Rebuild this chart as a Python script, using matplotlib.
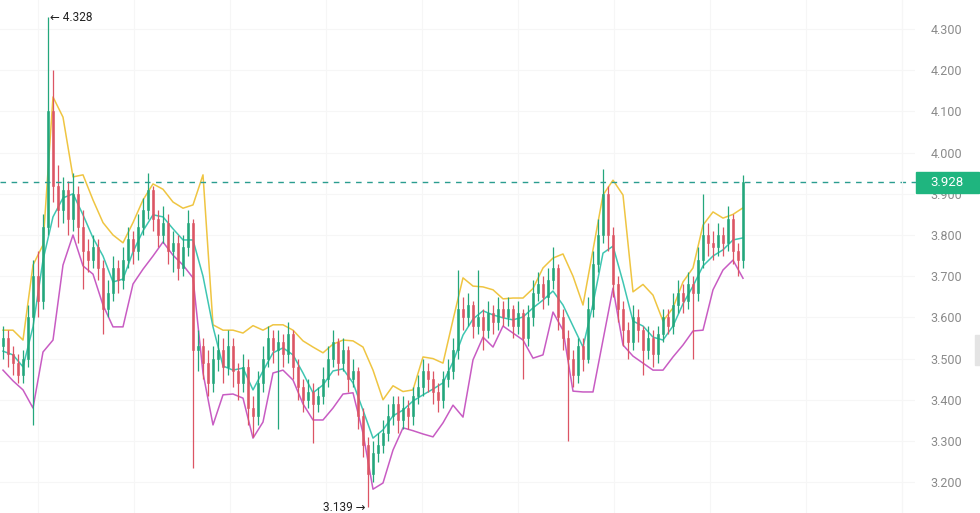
import numpy as np
import matplotlib
matplotlib.use("Agg")
import matplotlib.pyplot as plt
from matplotlib.patches import Rectangle

# candle data (one candle per slot, open = previous close)
first_open = 3.53
closes = [3.55, 3.51, 3.49, 3.46, 3.50, 3.60, 3.70, 3.64, 3.82, 4.10,
          3.92, 3.86, 3.91, 3.84, 3.90, 3.82, 3.76, 3.74, 3.77, 3.72,
          3.62, 3.66, 3.72, 3.69, 3.74, 3.79, 3.76, 3.82, 3.86, 3.91,
          3.84, 3.80, 3.83, 3.76, 3.78, 3.72, 3.77, 3.83, 3.52, 3.53,
          3.49, 3.44, 3.50, 3.52, 3.48, 3.53, 3.47, 3.44, 3.48, 3.38,
          3.36, 3.44, 3.50, 3.55, 3.52, 3.54, 3.51, 3.56, 3.48, 3.43,
          3.40, 3.42, 3.39, 3.41, 3.45, 3.50, 3.54, 3.49, 3.52, 3.45,
          3.47, 3.36, 3.29, 3.22, 3.27, 3.29, 3.32, 3.36, 3.39, 3.35,
          3.38, 3.36, 3.41, 3.43, 3.47, 3.45, 3.42, 3.40, 3.45, 3.47,
          3.52, 3.62, 3.60, 3.63, 3.58, 3.60, 3.57, 3.61, 3.59, 3.62,
          3.60, 3.62, 3.58, 3.61, 3.55, 3.60, 3.66, 3.68, 3.65, 3.69,
          3.72, 3.60, 3.55, 3.50, 3.46, 3.53, 3.50, 3.62, 3.73, 3.80,
          3.90, 3.80, 3.68, 3.62, 3.57, 3.54, 3.60, 3.57, 3.52, 3.55,
          3.51, 3.56, 3.60, 3.58, 3.63, 3.66, 3.64, 3.68, 3.66, 3.74,
          3.80, 3.78, 3.77, 3.80, 3.78, 3.84, 3.76, 3.74, 3.928]
highs = [3.58, 3.57, 3.53, 3.51, 3.52, 3.63, 3.74, 3.76, 3.85, 4.328,
         4.20, 3.97, 3.94, 3.93, 3.95, 3.92, 3.86, 3.79, 3.80, 3.79,
         3.74, 3.69, 3.75, 3.74, 3.77, 3.82, 3.81, 3.85, 3.89, 3.95,
         3.92, 3.86, 3.87, 3.85, 3.81, 3.80, 3.80, 3.86, 3.84, 3.57,
         3.55, 3.52, 3.53, 3.56, 3.55, 3.57, 3.55, 3.49, 3.51, 3.50,
         3.41, 3.47, 3.53, 3.58, 3.57, 3.57, 3.56, 3.59, 3.57, 3.50,
         3.45, 3.45, 3.44, 3.43, 3.48, 3.53, 3.57, 3.55, 3.55, 3.53,
         3.50, 3.48, 3.38, 3.31, 3.30, 3.32, 3.35, 3.39, 3.41, 3.41,
         3.41, 3.40, 3.43, 3.46, 3.50, 3.49, 3.47, 3.44, 3.47, 3.50,
         3.55, 3.715, 3.65, 3.66, 3.64, 3.715, 3.62, 3.64, 3.63, 3.65,
         3.64, 3.65, 3.63, 3.64, 3.62, 3.63, 3.69, 3.71, 3.70, 3.72,
         3.77, 3.73, 3.62, 3.57, 3.52, 3.55, 3.55, 3.65, 3.76, 3.84,
         3.96, 3.92, 3.82, 3.70, 3.64, 3.59, 3.63, 3.62, 3.58, 3.58,
         3.57, 3.58, 3.62, 3.62, 3.66, 3.69, 3.68, 3.71, 3.70, 3.77,
         3.90, 3.83, 3.81, 3.83, 3.82, 3.87, 3.85, 3.78, 3.946]
lows = [3.50, 3.48, 3.46, 3.44, 3.44, 3.48, 3.34, 3.60, 3.62, 3.80,
        3.88, 3.82, 3.83, 3.80, 3.81, 3.78, 3.67, 3.71, 3.72, 3.69,
        3.56, 3.60, 3.64, 3.66, 3.67, 3.72, 3.73, 3.74, 3.80, 3.84,
        3.81, 3.77, 3.78, 3.73, 3.71, 3.69, 3.70, 3.75, 3.235, 3.47,
        3.45, 3.41, 3.42, 3.47, 3.44, 3.46, 3.43, 3.40, 3.42, 3.34,
        3.31, 3.34, 3.42, 3.48, 3.49, 3.33, 3.48, 3.49, 3.45, 3.40,
        3.37, 3.38, 3.295, 3.37, 3.39, 3.43, 3.48, 3.46, 3.47, 3.42,
        3.43, 3.33, 3.26, 3.139, 3.20, 3.25, 3.27, 3.30, 3.34, 3.32,
        3.33, 3.33, 3.34, 3.39, 3.41, 3.42, 3.39, 3.37, 3.38, 3.43,
        3.45, 3.50, 3.57, 3.58, 3.55, 3.56, 3.52, 3.55, 3.56, 3.57,
        3.58, 3.58, 3.55, 3.56, 3.45, 3.53, 3.58, 3.64, 3.62, 3.63,
        3.67, 3.57, 3.52, 3.30, 3.43, 3.44, 3.47, 3.49, 3.60, 3.71,
        3.78, 3.76, 3.65, 3.59, 3.53, 3.50, 3.52, 3.54, 3.46, 3.50,
        3.48, 3.49, 3.54, 3.56, 3.56, 3.61, 3.61, 3.62, 3.50, 3.64,
        3.72, 3.75, 3.74, 3.75, 3.75, 3.76, 3.73, 3.70, 3.72]

# indicator lines, one value every second candle
band_every = 2
upper_band = [3.569, 3.569, 3.545, 3.727, 3.776, 4.135, 4.086, 3.941, 3.946, 3.885,
              3.83, 3.80, 3.781, 3.83, 3.885, 3.924, 3.911, 3.88, 3.865, 3.873,
              3.946, 3.582, 3.569, 3.569, 3.562, 3.58, 3.569, 3.582, 3.582, 3.569,
              3.543, 3.528, 3.514, 3.535, 3.545, 3.543, 3.528, 3.472, 3.40, 3.434,
              3.42, 3.424, 3.504, 3.50, 3.489, 3.594, 3.696, 3.676, 3.674, 3.667,
              3.645, 3.647, 3.647, 3.67, 3.72, 3.744, 3.754, 3.70, 3.63, 3.764,
              3.897, 3.933, 3.897, 3.662, 3.68, 3.654, 3.591, 3.623, 3.686, 3.72,
              3.824, 3.856, 3.841, 3.85, 3.866]
middle_band = [3.518, 3.509, 3.48, 3.577, 3.739, 3.844, 3.89, 3.90, 3.849, 3.793,
               3.749, 3.686, 3.693, 3.759, 3.81, 3.849, 3.844, 3.815, 3.788, 3.788,
               3.70, 3.577, 3.482, 3.472, 3.477, 3.424, 3.47, 3.514, 3.526, 3.509,
               3.465, 3.417, 3.436, 3.47, 3.475, 3.441, 3.375, 3.307, 3.327, 3.361,
               3.375, 3.397, 3.412, 3.426, 3.441, 3.492, 3.557, 3.596, 3.616, 3.606,
               3.599, 3.594, 3.601, 3.623, 3.642, 3.664, 3.63, 3.579, 3.528, 3.633,
               3.756, 3.773, 3.686, 3.591, 3.579, 3.552, 3.545, 3.579, 3.633, 3.676,
               3.725, 3.749, 3.764, 3.788, 3.793]
lower_band = [3.472, 3.446, 3.424, 3.38, 3.516, 3.545, 3.727, 3.80, 3.725, 3.705,
              3.63, 3.577, 3.577, 3.681, 3.717, 3.749, 3.783, 3.751, 3.727, 3.696,
              3.465, 3.339, 3.412, 3.414, 3.404, 3.307, 3.346, 3.465, 3.472, 3.448,
              3.39, 3.351, 3.351, 3.38, 3.414, 3.417, 3.319, 3.183, 3.198, 3.278,
              3.332, 3.325, 3.317, 3.31, 3.344, 3.387, 3.358, 3.497, 3.552, 3.528,
              3.579, 3.562, 3.545, 3.501, 3.509, 3.613, 3.569, 3.421, 3.419, 3.419,
              3.545, 3.671, 3.533, 3.506, 3.489, 3.472, 3.472, 3.504, 3.533, 3.567,
              3.569, 3.667, 3.715, 3.739, 3.695]

price_ticks = [3.2, 3.3, 3.4, 3.5, 3.6, 3.7, 3.8, 3.9, 4.0, 4.1, 4.2, 4.3]
last_price = 3.928
max_price = 4.328
min_price = 3.139

up_color = "#23a77c"
down_color = "#dc5564"
grid_color = "#f6f6f6"
font = ["Roboto", "DejaVu Sans"]

closes = np.array(closes)
highs = np.array(highs)
lows = np.array(lows)
opens = np.concatenate([[first_open], closes[:-1]])
idx = np.arange(len(closes))
band_x = np.arange(0, len(closes), band_every)

y_lo, y_hi = 3.1252, 4.3704

fig = plt.figure(figsize=(9.8, 5.13), dpi=100)
ax = fig.add_axes([0, 0, 915 / 980, 1])
ax.set_xlim(-0.6, 182.4)
ax.set_ylim(y_lo, y_hi)

for s in ax.spines.values():
    s.set_visible(False)

# grid
for p in price_ticks:
    ax.axhline(p, color=grid_color, lw=0.8, zorder=0)
for gx in np.arange(7, 182, 19.2):
    ax.axvline(gx, color=grid_color, lw=0.8, zorder=0)

# bands
ax.plot(band_x, upper_band, color="#efc542", lw=1.1, zorder=2)
ax.plot(band_x, middle_band, color="#3fc6b2", lw=1.1, zorder=2)
ax.plot(band_x, lower_band, color="#c85cc3", lw=1.1, zorder=2)

# candles
colors = np.where(closes >= opens, up_color, down_color)
ax.vlines(idx, lows, highs, colors=colors, lw=0.9, zorder=3)
ax.bar(idx, closes - opens, bottom=opens, width=0.55, color=colors,
       edgecolor=colors, linewidth=0.4, zorder=3)

# last price line
ax.axhline(last_price, color="#2a9d8f", lw=1.0, ls=(0, (4, 4)), zorder=4)

# high / low markers
i_max = int(np.argmax(highs))
i_min = int(np.argmin(lows))
ax.annotate(f"\u2190 {max_price:.3f}", xy=(i_max, max_price), xytext=(1.5, 0),
            textcoords="offset points", ha="left", va="center",
            fontsize=8.5, color="#222222", family=font)
ax.annotate(f"{min_price:.3f} \u2192", xy=(i_min, min_price), xytext=(-1.5, 0),
            textcoords="offset points", ha="right", va="center",
            fontsize=8.5, color="#222222", family=font)

# right price axis
ax.yaxis.tick_right()
ax.set_yticks(price_ticks)
ax.set_yticklabels([f"{p:.3f}" for p in price_ticks], family=font,
                   fontsize=9, color="#8a8a8a")
ax.tick_params(axis="y", length=0, pad=11)
ax.set_xticks([])

fig.add_artist(plt.Line2D([902 / 980, 902 / 980], [0, 1], color=grid_color, lw=0.8))

# last price tag
y_last = (last_price - y_lo) / (y_hi - y_lo)
fig.add_artist(plt.Line2D([915 / 980, 920 / 980], [y_last, y_last],
                          color="#2a9d8f", lw=1.0))
fig.add_artist(Rectangle((916 / 980, y_last - 10.5 / 513), 63 / 980, 21 / 513,
                         transform=fig.transFigure, color="#1fb57f", zorder=5))
fig.text(947 / 980, y_last, f"{last_price:.3f}", ha="center", va="center",
         fontsize=9.5, color="white", family=font, zorder=6)

# small scroll handle at the right edge
fig.add_artist(Rectangle((975 / 980, (513 - 365) / 513), 5 / 980, 30 / 513,
                         transform=fig.transFigure, color="#e4e4e4", zorder=5))

fig.savefig("out.png", dpi=100)
